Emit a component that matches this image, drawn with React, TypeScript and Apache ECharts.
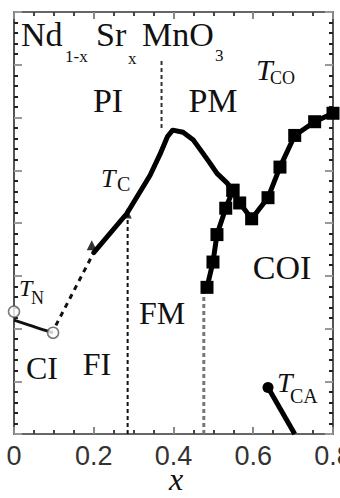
import React, { useEffect, useRef } from 'react';
import * as echarts from 'echarts';

// x-axis tick labels
const xTickLabels = ['0', '0.2', '0.4', '0.6', '0.8'];

// T_N of the CI phase
const tnX = [0, 0.04, 0.072, 0.098];
const tnT = [108, 103, 99, 96];
// open circles at T_N
const tnOpenX = [0, 0.098];
const tnOpenT = [116, 96];

// T_C, extrapolated (dashed) part
const tcDashX = [0.105, 0.2];
const tcDashT = [103, 172];
// T_C, measured
const tcX = [0.2, 0.283, 0.341, 0.366, 0.385, 0.398, 0.424, 0.449, 0.474, 0.491, 0.509, 0.534, 0.549];
const tcT = [172, 209, 245, 265, 282, 288, 286, 279, 266, 257, 247, 238, 231];
// triangle points on T_C
const triX = [0.195, 0.283];
const triT = [179, 209];

// FM / COI boundary (squares)
const fmX = [0.484, 0.499, 0.509, 0.531, 0.549];
const fmT = [139, 163, 189, 214, 231];
// T_CO (squares)
const tcoX = [0.549, 0.566, 0.596, 0.637, 0.667, 0.704, 0.754, 0.8];
const tcoT = [231, 219, 204, 224, 253, 283, 296, 304];
// T_CA
const tcaX = [0.637, 0.704];
const tcaT = [44, 0];

// vertical dashed phase boundaries: [x, Tlow, Thigh]
const fiBoundary = [0.285, 0, 209];
const piBoundary = [0.37, 290, 356];
const coiBoundary = [0.476, 0, 138];

const zip = (xs: number[], ys: number[]) => xs.map((x, i) => [x, ys[i]]);

const SERIF = '"Liberation Serif", "Times New Roman", serif';

type Lbl = {
  text: string;
  x: number;
  y: number;
  size: number;
  italic?: boolean;
  align?: 'left' | 'center' | 'right';
};

const labels: Lbl[] = [
  { text: 'Nd', x: 21, y: 34, size: 34 },
  { text: '1-x', x: 65, y: 56, size: 17 },
  { text: 'Sr', x: 96, y: 34, size: 34 },
  { text: 'x', x: 128, y: 58, size: 17 },
  { text: 'MnO', x: 142, y: 34, size: 34 },
  { text: '3', x: 215, y: 55, size: 17 },
  { text: 'PI', x: 108, y: 100, size: 34, align: 'center' },
  { text: 'PM', x: 213, y: 100, size: 34, align: 'center' },
  { text: 'T', x: 256, y: 69, size: 30, italic: true },
  { text: 'CO', x: 270, y: 78, size: 18 },
  { text: 'T', x: 101, y: 178, size: 26, italic: true },
  { text: 'C', x: 117, y: 184, size: 20 },
  { text: 'T', x: 19, y: 288, size: 24, italic: true },
  { text: 'N', x: 31, y: 298, size: 18 },
  { text: 'CI', x: 42, y: 368, size: 32, align: 'center' },
  { text: 'FI', x: 97, y: 364, size: 32, align: 'center' },
  { text: 'FM', x: 162, y: 313, size: 32, align: 'center' },
  { text: 'COI', x: 282, y: 267, size: 34, align: 'center' },
  { text: 'T', x: 277, y: 382, size: 28, italic: true },
  { text: 'CA', x: 290, y: 396, size: 20 },
  { text: 'x', x: 176, y: 479, size: 32, italic: true, align: 'center' },
];

function buildOption() {
  const tickLabel = (v: number) => xTickLabels[Math.round(v / 0.2)] ?? '';

  const xBase = {
    type: 'value',
    min: 0,
    max: 0.8,
    interval: 0.2,
    gridIndex: 0,
    axisLine: { show: true, onZero: false, lineStyle: { color: '#666', width: 2 } },
    axisTick: { show: true, inside: true, length: 7, lineStyle: { color: '#888', width: 2 } },
    minorTick: { show: true, splitNumber: 4, length: 4, lineStyle: { color: '#444', width: 2 } },
    splitLine: { show: false },
  };
  const yBase = {
    type: 'value',
    min: 0,
    max: 400,
    interval: 50,
    gridIndex: 0,
    axisLine: { show: true, onZero: false, lineStyle: { color: '#555', width: 2 } },
    axisTick: { show: true, inside: true, length: 8, lineStyle: { color: '#999', width: 2 } },
    minorTick: { show: true, splitNumber: 5, length: 4, lineStyle: { color: '#222', width: 2 } },
    splitLine: { show: false },
    axisLabel: { show: false },
  };

  const dashedV = (b: number[], color: string, width: number, dash: number[]) => ({
    type: 'line',
    data: [[b[0], b[1]], [b[0], b[2]]],
    symbol: 'none',
    lineStyle: { color, width, type: dash },
    z: 1,
  });

  return {
    animation: false,
    backgroundColor: '#fff',
    grid: { left: 14, top: 12, right: 7, bottom: 64, containLabel: false, outerBoundsMode: 'none' },
    xAxis: [
      {
        ...xBase,
        position: 'bottom',
        axisLabel: {
          formatter: tickLabel,
          fontSize: 27,
          fontFamily: '"Liberation Sans", Arial, sans-serif',
          color: '#333',
          margin: 8,
        },
      },
      { ...xBase, position: 'top', axisLabel: { show: false } },
    ],
    yAxis: [
      { ...yBase, position: 'left' },
      { ...yBase, position: 'right' },
    ],
    series: [
      dashedV(fiBoundary, '#111', 2, [4, 3]),
      dashedV(piBoundary, '#333', 2, [4, 3]),
      dashedV(coiBoundary, '#777', 3, [4, 3]),
      {
        type: 'line',
        data: zip(tnX, tnT),
        smooth: true,
        symbol: 'none',
        lineStyle: { color: '#111', width: 3 },
        z: 3,
      },
      {
        type: 'line',
        data: zip(tcDashX, tcDashT),
        symbol: 'none',
        lineStyle: { color: '#111', width: 3, type: [5, 5] },
        z: 3,
      },
      {
        type: 'line',
        data: zip(tcX, tcT),
        symbol: 'none',
        lineStyle: { color: '#000', width: 5, join: 'round', cap: 'round' },
        z: 3,
      },
      {
        type: 'scatter',
        data: zip(triX, triT),
        symbol: 'triangle',
        symbolSize: 10,
        itemStyle: { color: '#000' },
        z: 4,
      },
      {
        type: 'line',
        data: zip(fmX, fmT),
        symbol: 'rect',
        symbolSize: 13,
        itemStyle: { color: '#000' },
        lineStyle: { color: '#000', width: 5 },
        z: 4,
      },
      {
        type: 'line',
        data: zip(tcoX, tcoT),
        symbol: 'rect',
        symbolSize: 13,
        itemStyle: { color: '#000' },
        lineStyle: { color: '#000', width: 5 },
        z: 4,
      },
      {
        type: 'line',
        data: zip(tcaX, tcaT),
        symbol: 'circle',
        symbolSize: (v: number[]) => (v[1] > 0 ? 11 : 0),
        showAllSymbol: true,
        itemStyle: { color: '#000' },
        lineStyle: { color: '#000', width: 5 },
        z: 4,
      },
      {
        type: 'scatter',
        data: zip(tnOpenX, tnOpenT),
        symbol: 'circle',
        symbolSize: 11,
        itemStyle: { color: '#fff', borderColor: '#555', borderWidth: 1.5 },
        z: 5,
      },
    ],
    graphic: labels.map((l) => ({
      type: 'text',
      x: l.x,
      y: l.y,
      z: 10,
      style: {
        text: l.text,
        fontFamily: SERIF,
        fontSize: l.size,
        fontStyle: l.italic ? 'italic' : 'normal',
        fill: '#111',
        align: l.align ?? 'left',
        verticalAlign: 'middle',
      },
    })),
  };
}

export default function App() {
  const ref = useRef<HTMLDivElement>(null);

  useEffect(() => {
    if (!ref.current) return;
    const chart = echarts.init(ref.current, undefined, { renderer: 'svg' });
    chart.setOption(buildOption() as any);
    return () => chart.dispose();
  }, []);

  return (
    <div
      ref={ref}
      style={{ position: 'fixed', left: 0, top: 0, width: 340, height: 498, background: '#fff' }}
    />
  );
}
